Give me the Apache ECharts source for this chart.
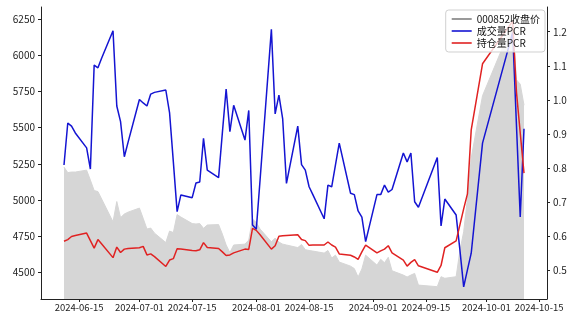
<!DOCTYPE html>
<html>
<head>
<meta charset="utf-8">
<script src="https://cdn.jsdelivr.net/npm/echarts@6/dist/echarts.min.js"></script>
<style>
  html, body { margin: 0; padding: 0; background: #fff; }
  #chart { width: 575px; height: 314px; }
</style>
</head>
<body>
<div id="chart"></div>
<script>
// 交易日
const dates = [
  '2024-06-11', '2024-06-12', '2024-06-13', '2024-06-14', '2024-06-17', '2024-06-18', '2024-06-19',
  '2024-06-20', '2024-06-21', '2024-06-24', '2024-06-25', '2024-06-26', '2024-06-27', '2024-06-28',
  '2024-07-01', '2024-07-02', '2024-07-03', '2024-07-04', '2024-07-05', '2024-07-08', '2024-07-09',
  '2024-07-10', '2024-07-11', '2024-07-12', '2024-07-15', '2024-07-16', '2024-07-17', '2024-07-18',
  '2024-07-19', '2024-07-22', '2024-07-23', '2024-07-24', '2024-07-25', '2024-07-26', '2024-07-29',
  '2024-07-30', '2024-07-31', '2024-08-01', '2024-08-02', '2024-08-05', '2024-08-06', '2024-08-07',
  '2024-08-08', '2024-08-09', '2024-08-12', '2024-08-13', '2024-08-14', '2024-08-15', '2024-08-16',
  '2024-08-19', '2024-08-20', '2024-08-21', '2024-08-22', '2024-08-23', '2024-08-26', '2024-08-27',
  '2024-08-28', '2024-08-29', '2024-08-30', '2024-09-02', '2024-09-03', '2024-09-04', '2024-09-05',
  '2024-09-06', '2024-09-09', '2024-09-10', '2024-09-11', '2024-09-12', '2024-09-13', '2024-09-18',
  '2024-09-19', '2024-09-20', '2024-09-23', '2024-09-24', '2024-09-25', '2024-09-26', '2024-09-27',
  '2024-09-30', '2024-10-08', '2024-10-09', '2024-10-10', '2024-10-11'
];

// 000852 收盘价（左轴）
const closePrice = [
  5227, 5189, 5193, 5193, 5206, 5137, 5065,
  5058, 5006, 4849, 4989, 4878, 4903, 4916,
  4944, 4873, 4799, 4806, 4771, 4706, 4785,
  4775, 4899, 4882, 4837, 4834, 4837, 4804,
  4827, 4830, 4764, 4689, 4637, 4689, 4695,
  4723, 4868, 4844, 4799, 4711, 4737, 4709,
  4695, 4689, 4671, 4692, 4657, 4651, 4647,
  4633, 4651, 4599, 4619, 4571, 4543, 4526,
  4468, 4523, 4619, 4550, 4590, 4566, 4604,
  4511, 4481, 4468, 4481, 4493, 4412, 4401,
  4470, 4459, 4470, 4650, 4780, 5010, 5290,
  5720, 6222, 5830, 5800, 5655
];

// 成交量PCR（右轴）
const volumePcr = [
  0.809, 0.932, 0.923, 0.903, 0.859, 0.797, 1.102,
  1.094, 1.123, 1.203, 0.982, 0.936, 0.833, 0.876,
  1.001, 0.991, 0.982, 1.017, 1.022, 1.029, 0.962,
  0.818, 0.672, 0.721, 0.713, 0.756, 0.759, 0.887,
  0.794, 0.772, 0.903, 1.032, 0.907, 0.984, 0.882,
  0.969, 0.633, 0.620, 0.765, 1.207, 0.959, 1.014,
  0.944, 0.755, 0.923, 0.810, 0.794, 0.745, 0.722,
  0.651, 0.750, 0.745, 0.809, 0.873, 0.726, 0.722,
  0.674, 0.656, 0.584, 0.722, 0.722, 0.750, 0.729,
  0.737, 0.844, 0.818, 0.844, 0.701, 0.685, 0.831,
  0.630, 0.709, 0.662, 0.560, 0.451, 0.501, 0.550,
  0.873, 1.198, 0.926, 0.656, 0.915
];

// 持仓量PCR（右轴）
const oiPcr = [
  0.585, 0.590, 0.599, 0.602, 0.609, 0.587, 0.565,
  0.590, 0.577, 0.537, 0.568, 0.552, 0.562, 0.564,
  0.566, 0.570, 0.545, 0.548, 0.540, 0.511, 0.530,
  0.534, 0.563, 0.562, 0.558, 0.557, 0.560, 0.581,
  0.567, 0.564, 0.554, 0.543, 0.545, 0.551, 0.562,
  0.561, 0.623, 0.617, 0.604, 0.562, 0.572, 0.600,
  0.601, 0.602, 0.604, 0.590, 0.587, 0.573, 0.574,
  0.574, 0.583, 0.574, 0.568, 0.548, 0.544, 0.539,
  0.532, 0.554, 0.574, 0.551, 0.557, 0.562, 0.572,
  0.551, 0.530, 0.512, 0.523, 0.531, 0.513, 0.494,
  0.514, 0.566, 0.586, 0.633, 0.680, 0.724, 0.912,
  1.106, 1.231, 1.023, 0.903, 0.785
];

// 刻度
const xTickLabels = ['2024-06-15', '2024-07-01', '2024-07-15', '2024-08-01', '2024-08-15',
  '2024-09-01', '2024-09-15', '2024-10-01', '2024-10-15'];
const leftTicks = [4500, 4750, 5000, 5250, 5500, 5750, 6000, 6250];
const rightTicks = [0.5, 0.6, 0.7, 0.8, 0.9, 1.0, 1.1, 1.2];

const toTs = s => {
  const [y, m, d] = s.split('-').map(Number);
  return new Date(y, m - 1, d).getTime();
};
const pad = n => (n < 10 ? '0' + n : '' + n);
const fmtDate = v => {
  const d = new Date(Math.round(v));
  return d.getFullYear() + '-' + pad(d.getMonth() + 1) + '-' + pad(d.getDate());
};

const xs = dates.map(toTs);
const span = xs[xs.length - 1] - xs[0];
const xTicks = xTickLabels.map(toTs);

const font = 'Noto Sans CJK SC';
const axisColor = '#222';

const chart = echarts.init(document.getElementById('chart'));

const option = {
  animation: false,
  backgroundColor: '#fff',
  grid: { left: 41, right: 28, top: 7, bottom: 15 },
  legend: {
    orient: 'vertical',
    right: 30,
    top: 10,
    icon: 'rect',
    itemWidth: 20,
    itemHeight: 1.6,
    itemGap: 2,
    padding: [4, 5, 4, 6],
    backgroundColor: 'rgba(255,255,255,0.8)',
    borderColor: '#d0d0d0',
    borderWidth: 1,
    borderRadius: 3,
    textStyle: { fontFamily: font, fontSize: 10, color: '#111' },
    data: [
      { name: '000852收盘价', itemStyle: { color: '#808080' } },
      { name: '成交量PCR' },
      { name: '持仓量PCR' }
    ]
  },
  xAxis: {
    type: 'value',
    min: xs[0] - span * 0.05,
    max: xs[xs.length - 1] + span * 0.05,
    axisLine: { lineStyle: { color: axisColor, width: 1 } },
    axisTick: { customValues: xTicks, length: 3, lineStyle: { color: axisColor } },
    axisLabel: {
      customValues: xTicks,
      formatter: v => fmtDate(v),
      fontFamily: font,
      fontSize: 9.5,
      color: '#222',
      margin: 4
    },
    splitLine: { show: false }
  },
  yAxis: [
    {
      type: 'value',
      position: 'left',
      min: 4316,
      max: 6333,
      axisLine: { show: true, lineStyle: { color: axisColor, width: 1 } },
      axisTick: { show: true, customValues: leftTicks, length: 3, lineStyle: { color: axisColor } },
      axisLabel: {
        customValues: leftTicks,
        formatter: v => String(v),
        fontFamily: font,
        fontSize: 10,
        color: '#222',
        margin: 6
      },
      splitLine: { show: false }
    },
    {
      type: 'value',
      position: 'right',
      min: 0.4156,
      max: 1.2726,
      axisLine: { show: true, lineStyle: { color: axisColor, width: 1 } },
      axisTick: { show: true, customValues: rightTicks, length: 3, lineStyle: { color: axisColor } },
      axisLabel: {
        customValues: rightTicks,
        formatter: v => v.toFixed(1),
        fontFamily: font,
        fontSize: 10,
        color: '#222',
        margin: 6
      },
      splitLine: { show: false }
    }
  ],
  series: [
    {
      name: '000852收盘价',
      type: 'line',
      yAxisIndex: 0,
      symbol: 'none',
      data: xs.map((t, i) => [t, closePrice[i]]),
      itemStyle: { color: '#808080' },
      lineStyle: { color: '#d6d6d6', width: 1 },
      areaStyle: { color: '#d6d6d6', opacity: 1, origin: 'start' },
      z: 1
    },
    {
      name: '成交量PCR',
      type: 'line',
      yAxisIndex: 1,
      symbol: 'none',
      data: xs.map((t, i) => [t, volumePcr[i]]),
      itemStyle: { color: '#1414d2' },
      lineStyle: { color: '#1414d2', width: 1.5 },
      z: 2
    },
    {
      name: '持仓量PCR',
      type: 'line',
      yAxisIndex: 1,
      symbol: 'none',
      data: xs.map((t, i) => [t, oiPcr[i]]),
      itemStyle: { color: '#e02222' },
      lineStyle: { color: '#e02222', width: 1.5 },
      z: 3
    }
  ]
};

chart.setOption(option);
</script>
</body>
</html>
